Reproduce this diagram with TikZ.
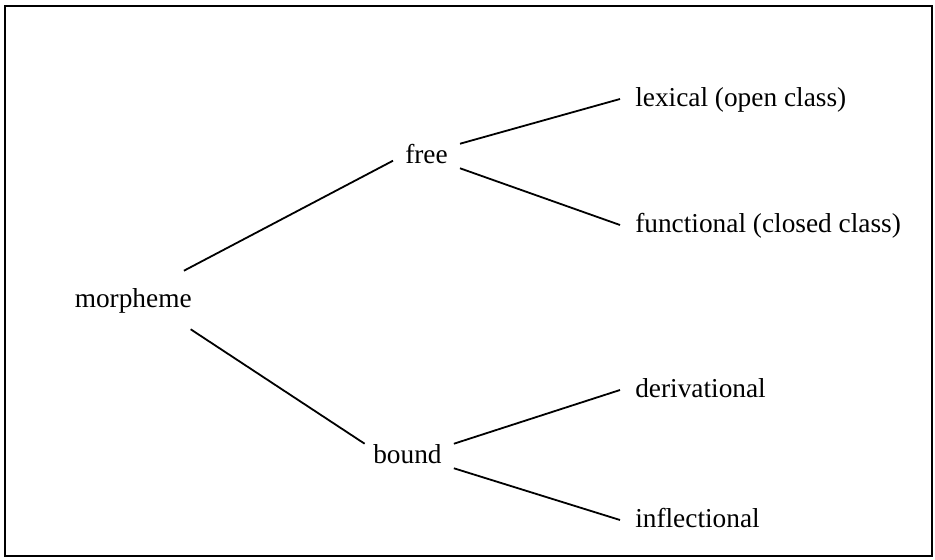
\documentclass[tikz,border=0pt]{standalone}
\usepackage{fontspec}
\setmainfont{Liberation Serif}
\usepackage{tikz}

\begin{document}
\begin{tikzpicture}[x=0.75pt,y=0.75pt,yscale=-1,xscale=1,
  word/.style={inner xsep=0pt,inner ysep=0pt,text height=14.25pt,text depth=3.75pt,font=\fontsize{20.5}{24}\selectfont},
  midword/.style={word,inner xsep=9pt},
  leafword/.style={word,inner xsep=11.25pt},
  branch/.style={line width=1.35pt}]
\path (0,0) rectangle (935,560); %set diagram size


%Shape: Rectangle
\draw [line width=1.6pt]  (5,6) -- (932,6) -- (932,556) -- (5,556) -- cycle ;

% Text Node
\node (morpheme) at (74.5,307) [word,inner ysep=12.75pt,anchor=base west] {morpheme};
% Text Node
\node (free) at (393,163) [midword,anchor=base west] {free};
% Text Node
\node (bound) at (361,463) [midword,anchor=base west] {bound};
% Text Node
\node (lexical) at (620,106) [leafword,anchor=base west] {lexical (open class)};
% Text Node
\node (functional) at (620,232) [leafword,anchor=base west] {functional (closed class)};
% Text Node
\node (derivational) at (620,397) [leafword,anchor=base west] {derivational};
% Text Node
\node (inflectional) at (620,527) [leafword,anchor=base west] {inflectional};

%Straight Lines
\draw [branch]  (morpheme.30) -- (free.188) ;
%Straight Lines
\draw [branch]  (morpheme.-27) -- (bound.164) ;
%Straight Lines
\draw [branch]  (free.north east) -- (lexical.west) ;
%Straight Lines
\draw [branch]  (free.south east) -- (functional.west) ;
%Straight Lines
\draw [branch]  (bound.north east) -- (derivational.west) ;
%Straight Lines
\draw [branch]  (bound.south east) -- (inflectional.west) ;


\end{tikzpicture}
\end{document}
